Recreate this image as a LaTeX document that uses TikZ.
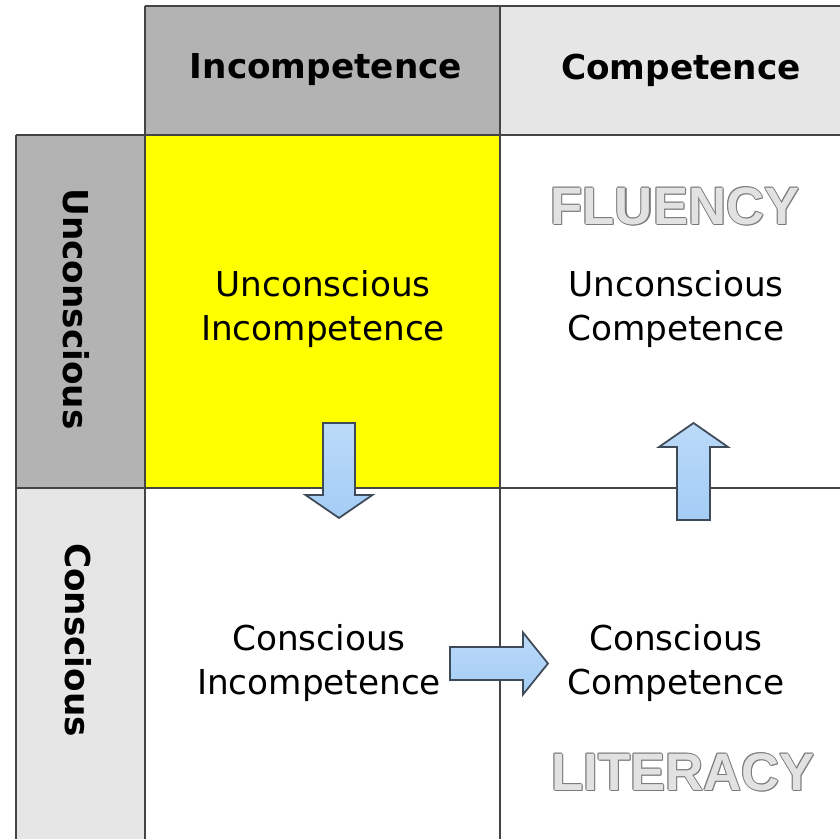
\documentclass[tikz,border=0pt]{standalone}
\usepackage{fontspec}
\setmainfont{DejaVu Sans}
\newfontfamily\stampfont{Liberation Sans}
\definecolor{hdark}{HTML}{B3B3B3}
\definecolor{hlight}{HTML}{E6E6E6}
\definecolor{cellyellow}{HTML}{FFFF00}
\definecolor{gridgray}{HTML}{444444}
\definecolor{arrowfill}{HTML}{A4CDF6}
\definecolor{arrowedge}{HTML}{3E4A58}
\definecolor{stampfill}{HTML}{E2E2E2}
\definecolor{stampedge}{HTML}{7A7A7A}
\tikzset{
  celltext/.style={font=\fontsize{19.5}{25.5}\selectfont, align=center},
  headtext/.style={font=\bfseries\fontsize{19.5}{25.5}\selectfont},
  gridline/.style={draw=gridgray, line width=1.1pt},
  blockarrow/.style={draw=arrowedge, line width=1pt, top color=arrowfill!75!white, bottom color=arrowfill},
  stamp/.style={font=\stampfont\bfseries\fontsize{30}{36}\selectfont}
}
\begin{document}
\begin{tikzpicture}
  \useasboundingbox (0,0) rectangle (16.8,16.78);
  \clip (0,0) rectangle (16.8,16.78);
  % header cells and yellow cell
  \fill[hdark] (2.9,14.08) rectangle (10,16.66);
  \fill[hlight] (10,14.08) rectangle (17.5,16.66);
  \fill[hdark] (0.32,7.02) rectangle (2.9,14.08);
  \fill[hlight] (0.32,-1) rectangle (2.9,7.02);
  \fill[cellyellow] (2.9,7.02) rectangle (10,14.08);
  % grid
  \draw[gridline] (2.9,16.66) -- (17.5,16.66);
  \draw[gridline] (0.32,14.08) -- (17.5,14.08);
  \draw[gridline] (0.32,7.02) -- (17.5,7.02);
  \draw[gridline] (0.32,14.08) -- (0.32,-1);
  \draw[gridline] (2.9,16.66) -- (2.9,-1);
  \draw[gridline] (10,16.66) -- (10,-1);
  % headers
  \node[headtext] (hdincomp) at (6.52,15.38) {Incompetence};
  \node[headtext] (hdcomp) at (13.62,15.38) {Competence};
  \node[headtext, rotate=-90] (lbuncon) at (1.52,10.6) {Unconscious};
  \node[headtext, rotate=-90] (lbcon) at (1.56,3.98) {Conscious};
  % cells
  \node[celltext] (ui) at (6.46,10.6) {Unconscious\\Incompetence};
  \node[celltext] (uc) at (13.52,10.6) {Unconscious\\Competence};
  \node[celltext] (ci) at (6.38,3.52) {Conscious\\Incompetence};
  \node[celltext] (cc) at (13.52,3.52) {Conscious\\Competence};
  % stamped words
  \foreach \dx/\dy in {0.025/0,-0.02/0,0/0.02,0/-0.025,0.02/-0.02,-0.015/0.015}{
    \node[stamp, text=stampedge, xshift=\dx cm, yshift=\dy cm] at (13.5,12.66) {FLUENCY};
    \node[stamp, text=stampedge, xshift=\dx cm, yshift=\dy cm] at (13.66,1.34) {LITERACY};
  }
  \node[stamp, text=stampfill] (fluency) at (13.5,12.66) {FLUENCY};
  \node[stamp, text=stampfill] (literacy) at (13.66,1.34) {LITERACY};
  % arrows
  \draw[blockarrow] (6.46,8.32) -- (7.10,8.32) -- (7.10,6.88) -- (7.45,6.88)
    -- (6.78,6.42) -- (6.11,6.88) -- (6.46,6.88) -- cycle;
  \draw[blockarrow] (13.54,6.38) -- (14.20,6.38) -- (14.20,7.84) -- (14.56,7.84)
    -- (13.87,8.32) -- (13.18,7.84) -- (13.54,7.84) -- cycle;
  \draw[blockarrow] (9.0,3.18) -- (10.46,3.18) -- (10.46,2.89) -- (10.96,3.51)
    -- (10.46,4.13) -- (10.46,3.84) -- (9.0,3.84) -- cycle;
\end{tikzpicture}
\end{document}
